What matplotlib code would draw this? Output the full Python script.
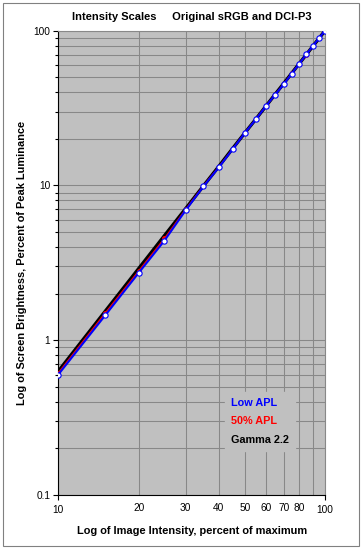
import matplotlib.pyplot as plt
from matplotlib.patches import Rectangle
from matplotlib.ticker import FixedLocator, FixedFormatter, NullFormatter

plt.rcParams['font.family'] = ['Liberation Sans', 'DejaVu Sans']

# image intensity, percent of maximum
intensity = [10, 15, 20, 25, 30, 35, 40, 45, 50, 55, 60, 65, 70, 75, 80, 85, 90, 95, 100]
# screen brightness, percent of peak luminance
low_apl = [0.60, 1.45, 2.72, 4.40, 6.90, 9.85, 13.1, 17.1, 21.8, 26.7, 32.5, 38.6, 45.0,
           52.8, 61.0, 70.2, 79.4, 89.6, 100]
apl_50 = [0.615, 1.50, 2.80, 4.55, 7.00, 9.95, 13.2, 17.2, 21.8, 26.8, 32.5, 38.7, 45.2,
          53.0, 61.1, 70.0, 79.4, 89.4, 100]
gamma_22 = [0.63, 1.54, 2.90, 4.74, 7.07, 9.93, 13.3, 17.3, 21.8, 26.8, 32.5, 38.8, 45.6,
            53.1, 61.2, 69.9, 79.3, 89.3, 100]

x_labels = ['20', '30', '40', '50', '60', '70', '80', '']
x_minor = [20, 30, 40, 50, 60, 70, 80, 90]

W, H = 363, 550
fig = plt.figure(figsize=(W / 100, H / 100), dpi=100)
ax = fig.add_axes([58.3 / W, 1 - 495 / H, (325 - 58.3) / W, (495 - 30.7) / H])
ax.set_facecolor('#C0C0C0')

ax.plot(intensity, gamma_22, color='black', lw=2.4, label='Gamma 2.2', zorder=3)
ax.plot(intensity, apl_50, color='red', lw=1.0, marker='o', ms=2.5, mfc='red',
        mec='red', label='50% APL', zorder=4)
ax.plot(intensity, low_apl, color='#0000FF', lw=1.5, marker='o', ms=3.8, mfc='white',
        mec='#0000FF', mew=0.8, label='Low APL', zorder=5)

ax.set_xscale('log')
ax.set_yscale('log')
ax.set_xlim(10, 100)
ax.set_ylim(0.1, 100)

ax.xaxis.set_major_locator(FixedLocator([10, 100]))
ax.xaxis.set_major_formatter(FixedFormatter(['10', '100']))
ax.xaxis.set_minor_locator(FixedLocator(x_minor))
ax.xaxis.set_minor_formatter(FixedFormatter(x_labels))
ax.set_yticks([0.1, 1, 10, 100])
ax.set_yticklabels(['0.1', '1', '10', '100'])
ax.yaxis.set_minor_formatter(NullFormatter())

ax.tick_params(axis='x', which='major', length=3.5, width=0.8, pad=3.5, labelsize=7.3)
ax.tick_params(axis='x', which='minor', length=0, pad=6.0, labelsize=7.3)
ax.tick_params(axis='y', which='major', length=3.5, width=0.8, pad=2.2, labelsize=7.3)
ax.tick_params(axis='y', which='minor', length=2.5, width=0.8)

ax.grid(True, which='both', color='#888888', lw=0.75)
ax.set_axisbelow(True)
for side in ['top', 'right']:
    ax.spines[side].set_color('#888888')
for side in ['left', 'bottom']:
    ax.spines[side].set_color('black')
for s in ax.spines.values():
    s.set_linewidth(0.8)

ax.set_xlabel('Log of Image Intensity, percent of maximum', fontsize=7.9,
              fontweight='bold', va='center')
ax.xaxis.set_label_coords((192.5 - 58.3) / (325 - 58.3), (495 - 531) / (495 - 30.7))
ax.set_ylabel('Log of Screen Brightness, Percent of Peak Luminance', fontsize=7.9,
              fontweight='bold', va='center')
ax.yaxis.set_label_coords((22 - 58.3) / (325 - 58.3), 0.5)

fig.text(192 / W, 1 - 17.3 / H, 'Intensity Scales     Original sRGB and DCI-P3',
         ha='center', va='center', fontsize=8.0, fontweight='bold')

handles, labels = ax.get_legend_handles_labels()
leg = ax.legend(handles[::-1], labels[::-1], loc='upper left',
                bbox_to_anchor=(220 / W, 1 - 387 / H), bbox_transform=fig.transFigure,
                handlelength=0, handletextpad=0, labelcolor='linecolor',
                prop={'size': 7.8, 'weight': 'bold'}, frameon=True, fancybox=False,
                facecolor='#C0C0C0', edgecolor='#C0C0C0', framealpha=1,
                labelspacing=0.75, borderpad=0.55)
for h in leg.legend_handles:
    h.set_visible(False)

fig.patches.append(Rectangle((3.3 / W, 1 - 546 / H), (359.3 - 3.3) / W, (546 - 3.3) / H,
                             transform=fig.transFigure, fill=False,
                             edgecolor='#808080', lw=0.8))

fig.savefig('out.png', dpi=100)
